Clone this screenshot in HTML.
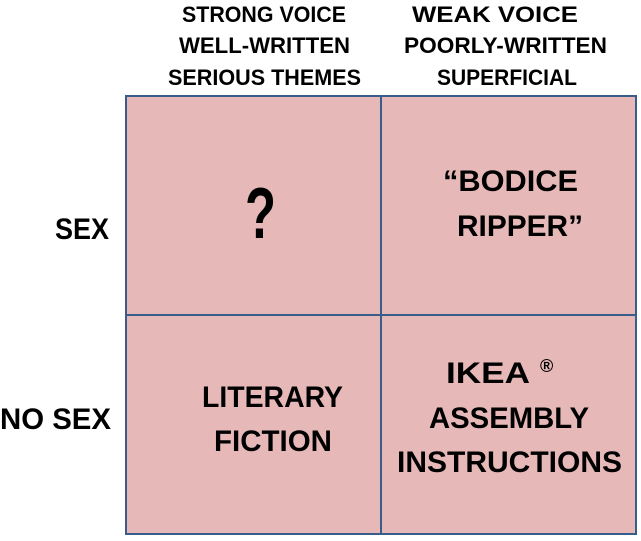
<!DOCTYPE html>
<html><head><meta charset="utf-8"><style>html,body{margin:0;padding:0;background:#fff}svg{display:block}</style></head>
<body>
<svg width="641" height="541" xmlns="http://www.w3.org/2000/svg" font-family="Liberation Sans, sans-serif" font-weight="bold" fill="#000">
<rect x="126" y="96" width="510" height="438" fill="#E6B9B8" stroke="#385D8A" stroke-width="2"/>
<line x1="381" y1="96" x2="381" y2="534" stroke="#385D8A" stroke-width="2"/>
<line x1="126" y1="315" x2="636" y2="315" stroke="#385D8A" stroke-width="2"/>
<g font-size="22">
<text x="182" y="22" textLength="164" lengthAdjust="spacingAndGlyphs">STRONG VOICE</text>
<text x="179" y="53" textLength="171" lengthAdjust="spacingAndGlyphs">WELL-WRITTEN</text>
<text x="168" y="85" textLength="193" lengthAdjust="spacingAndGlyphs">SERIOUS THEMES</text>
<text x="412" y="22" textLength="166" lengthAdjust="spacingAndGlyphs">WEAK VOICE</text>
<text x="404" y="53" textLength="203" lengthAdjust="spacingAndGlyphs">POORLY-WRITTEN</text>
<text x="437" y="85" textLength="140" lengthAdjust="spacingAndGlyphs">SUPERFICIAL</text>
</g>
<g font-size="30">
<text x="55" y="239" textLength="54" lengthAdjust="spacingAndGlyphs">SEX</text>
<text x="0" y="429" textLength="111" lengthAdjust="spacingAndGlyphs">NO SEX</text>
<text x="443" y="191" textLength="135" lengthAdjust="spacingAndGlyphs">“BODICE</text>
<text x="457" y="236" textLength="126" lengthAdjust="spacingAndGlyphs">RIPPER”</text>
<text x="202" y="407" textLength="141" lengthAdjust="spacingAndGlyphs">LITERARY</text>
<text x="214" y="451" textLength="118" lengthAdjust="spacingAndGlyphs">FICTION</text>
<text x="446" y="383" textLength="84" lengthAdjust="spacingAndGlyphs">IKEA</text>
<text x="540" y="372" font-size="18">®</text>
<text x="429" y="428" textLength="160" lengthAdjust="spacingAndGlyphs">ASSEMBLY</text>
<text x="397" y="472" textLength="225" lengthAdjust="spacingAndGlyphs">INSTRUCTIONS</text>
</g>
<text x="245" y="238" font-size="72" textLength="31" lengthAdjust="spacingAndGlyphs">?</text>
</svg>
</body></html>
